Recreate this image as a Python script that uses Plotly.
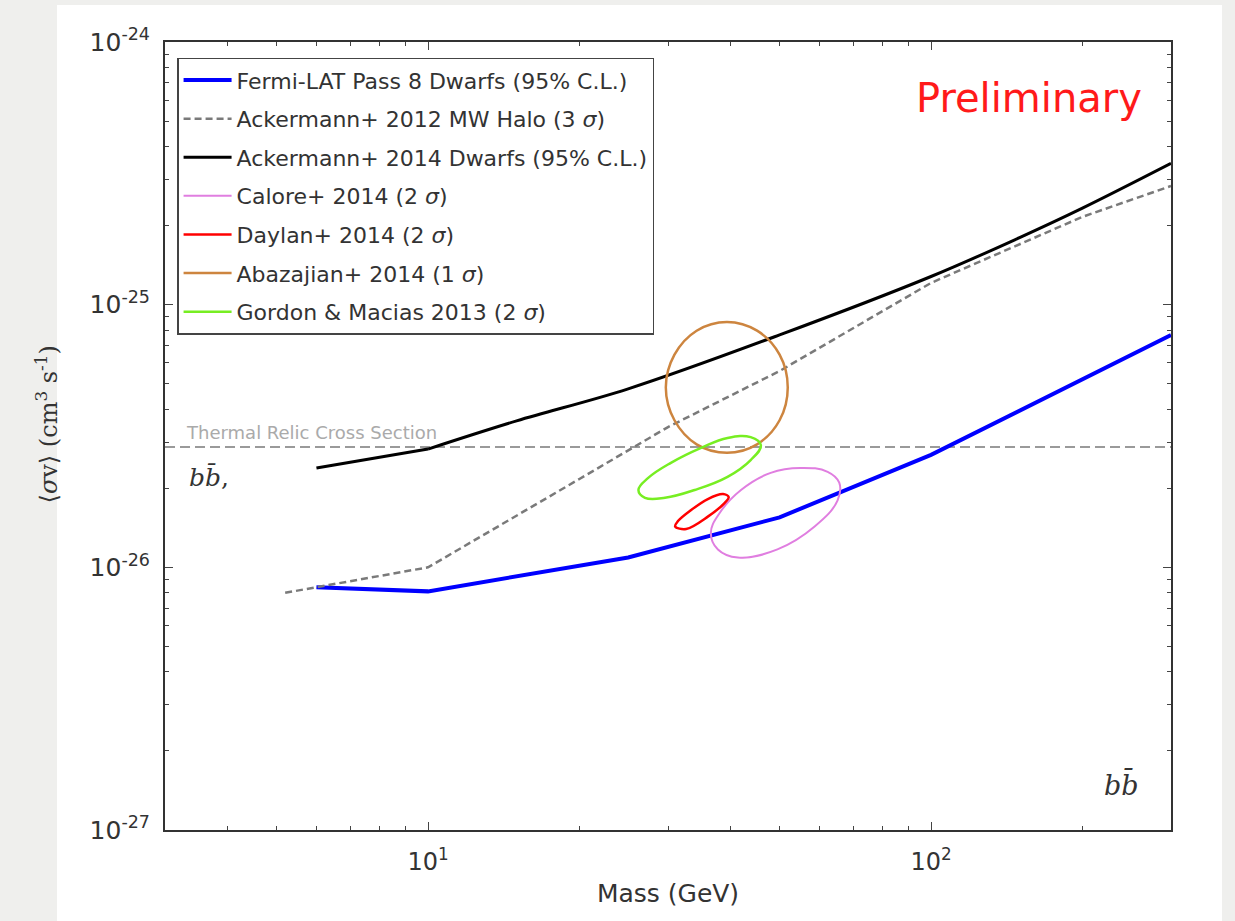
import plotly.graph_objects as go

# ---------------- data ----------------
fermi_mass = [6, 10, 25, 50, 100, 300]
fermi_sv = [8.4e-27, 8.1e-27, 1.09e-26, 1.55e-26, 2.68e-26, 7.67e-26]

ack12_mass = [5.2, 10, 20, 30, 50, 100, 200, 300]
ack12_sv = [8.0e-27, 1.0e-26, 2.17e-26, 3.42e-26, 5.59e-26, 1.21e-25, 2.16e-25, 2.83e-25]

ack14_mass_low = [6, 10]
ack14_sv_low = [2.39e-26, 2.82e-26]
ack14_mass = [10, 15, 25, 50, 100, 150, 200, 300]
ack14_sv = [2.82e-26, 3.61e-26, 4.78e-26, 7.67e-26, 1.28e-25, 1.80e-25, 2.33e-25, 3.45e-25]

thermal_mass = [3, 300]
thermal_sv = [2.87e-26, 2.87e-26]

calore_mass = [36.5, 37.7, 41.3, 49.5, 58.7, 65.2, 65.7, 62.3, 55.0, 48.0, 41.9, 38.0, 36.5]
calore_sv = [1.35e-26, 1.17e-26, 1.09e-26, 1.17e-26, 1.43e-26, 1.80e-26, 2.10e-26, 2.31e-26,
             2.39e-26, 2.29e-26, 1.97e-26, 1.61e-26, 1.35e-26]

daylan_mass = [31.0, 32.6, 36.0, 38.9, 39.6, 38.6, 36.0, 33.3, 31.4, 31.0]
daylan_sv = [1.43e-26, 1.40e-26, 1.56e-26, 1.76e-26, 1.85e-26, 1.90e-26, 1.82e-26, 1.65e-26,
             1.50e-26, 1.43e-26]

abaz_mass = [39.3, 45.1, 50.0, 51.9, 50.0, 45.1, 39.3, 34.2, 30.9, 29.7, 30.9, 34.2, 39.3]
abaz_sv = [8.59e-26, 7.96e-26, 6.45e-26, 4.84e-26, 3.63e-26, 2.94e-26, 2.73e-26, 2.94e-26,
           3.63e-26, 4.84e-26, 6.45e-26, 7.96e-26, 8.59e-26]

gordon_mass = [26.2, 27.0, 29.6, 33.9, 39.4, 43.8, 45.9, 43.8, 39.4, 34.9, 30.4, 27.4, 26.2]
gordon_sv = [1.97e-26, 1.84e-26, 1.84e-26, 1.97e-26, 2.21e-26, 2.56e-26, 2.92e-26, 3.13e-26,
             3.11e-26, 2.85e-26, 2.50e-26, 2.19e-26, 1.97e-26]

x_major = [10, 100]
x_major_text = ["10<sup>1</sup>", "10<sup>2</sup>"]
y_major = [1e-27, 1e-26, 1e-25, 1e-24]
y_major_text = ["10<sup>-27</sup>", "10<sup>-26</sup>", "10<sup>-25</sup>", "10<sup>-24</sup>"]
x_minor = [4, 5, 6, 7, 8, 9, 20, 30, 40, 50, 60, 70, 80, 90, 200, 300]
y_minor = [m * 10.0 ** e for e in (-27, -26, -25) for m in range(2, 10)]

# ---------------- figure ----------------
fig = go.Figure()

def add(x, y, name, color, width, dash="solid", shape="linear", smooth=1.0, show=True, group=None):
    fig.add_trace(go.Scatter(
        x=x, y=y, mode="lines", name=name, showlegend=show,
        legendgroup=group if group else name,
        line=dict(color=color, width=width, dash=dash, shape=shape, smoothing=smooth),
        hoverinfo="skip"))

add(thermal_mass, thermal_sv, "Thermal Relic Cross Section", "#9a9a9a", 2, dash="10px,5px", show=False)
add(fermi_mass, fermi_sv, "Fermi-LAT Pass 8 Dwarfs (95% C.L.)", "#0000ff", 4)
add(ack12_mass, ack12_sv, "Ackermann+ 2012 MW Halo (3 <i>σ</i>)", "#7a7a7a", 2.5, dash="7px,4px")
add(ack14_mass, ack14_sv, "Ackermann+ 2014 Dwarfs (95% C.L.)", "#000000", 3, shape="spline", smooth=1.0)
add(ack14_mass_low, ack14_sv_low, "Ackermann+ 2014 Dwarfs (95% C.L.)", "#000000", 3, show=False,
    group="Ackermann+ 2014 Dwarfs (95% C.L.)")
add(calore_mass, calore_sv, "Calore+ 2014 (2 <i>σ</i>)", "#e07ee0", 2, shape="spline", smooth=1.2)
add(daylan_mass, daylan_sv, "Daylan+ 2014 (2 <i>σ</i>)", "#ff0000", 2.5, shape="spline", smooth=1.0)
add(abaz_mass, abaz_sv, "Abazajian+ 2014 (1 <i>σ</i>)", "#cd853f", 2.5, shape="spline", smooth=1.0)
add(gordon_mass, gordon_sv, "Gordon &amp; Macias 2013 (2 <i>σ</i>)", "#77ee22", 2.5, shape="spline", smooth=1.2)

axis_common = dict(
    type="log", showgrid=False, zeroline=False,
    showline=True, linecolor="#333333", linewidth=2, mirror="allticks",
    ticks="inside", ticklen=8, tickwidth=1.2, tickcolor="#444444",
)

fig.update_xaxes(
    range=[0.4771, 2.4771], tickmode="array", tickvals=x_major, ticktext=x_major_text,
    tickfont=dict(family="DejaVu Sans", size=24, color="#333333"),
    ticklabelstandoff=9,
    minor=dict(tickmode="array", tickvals=x_minor, ticks="inside", ticklen=4,
               tickcolor="#444444", tickwidth=1),
    title=dict(text="Mass (GeV)", font=dict(family="DejaVu Sans", size=25, color="#333333"),
               standoff=10),
    **axis_common)
fig.update_yaxes(
    range=[-27, -24], tickmode="array", tickvals=y_major, ticktext=y_major_text,
    tickfont=dict(family="DejaVu Sans", size=25, color="#333333"),
    ticklabelstandoff=8,
    minor=dict(tickmode="array", tickvals=y_minor, ticks="inside", ticklen=4,
               tickcolor="#444444", tickwidth=1),
    **axis_common)

annotations = [
    dict(text="Preliminary", x=0.859, y=0.929, xref="paper", yref="paper",
         xanchor="center", yanchor="middle",
         showarrow=False, font=dict(family="DejaVu Sans", size=40, color="#ff1a1a")),
    dict(text="Thermal Relic Cross Section", x=0.019, y=0.505, xref="paper", yref="paper",
         xanchor="left", yanchor="middle", showarrow=False,
         font=dict(family="DejaVu Sans", size=18, color="#aaaaaa")),
    dict(text="<i>bb̄</i>,", x=0.022, y=0.447, xref="paper", yref="paper",
         xanchor="left", yanchor="middle", showarrow=False,
         font=dict(family="DejaVu Serif", size=25, color="#333333")),
    dict(text="<i>bb̄</i>", x=0.951, y=0.058, xref="paper", yref="paper",
         xanchor="center", yanchor="middle",
         showarrow=False, font=dict(family="DejaVu Serif", size=27, color="#333333")),
    dict(text="⟨<i>σ</i>v⟩ (cm<sup>3</sup> s<sup>-1</sup>)", x=-0.117, y=0.515,
         xref="paper", yref="paper", textangle=-90, showarrow=False,
         xanchor="center", yanchor="middle",
         font=dict(family="DejaVu Serif", size=24, color="#333333")),
]

fig.update_layout(
    width=1235, height=921,
    margin=dict(l=165, r=64, t=42, b=91),
    paper_bgcolor="#efefed", plot_bgcolor="#ffffff",
    annotations=annotations,
    shapes=[dict(type="rect", xref="paper", yref="paper", x0=-0.1074, x1=1.0507,
                 y0=-0.2, y1=1.047, fillcolor="#ffffff", line=dict(width=0), layer="below")],
    legend=dict(x=0.012, y=0.98, xanchor="left", yanchor="top",
                bgcolor="#ffffff", bordercolor="#444444", borderwidth=1.5,
                font=dict(family="DejaVu Sans", size=22, color="#333333"),
                tracegroupgap=7, itemwidth=48),
    showlegend=True,
)

fig.write_html(
    "out.html",
    config={"displayModeBar": False},
    post_script="document.body.style.margin='0';document.body.style.overflow='hidden';"
                "document.body.style.background='#efefed';",
)
